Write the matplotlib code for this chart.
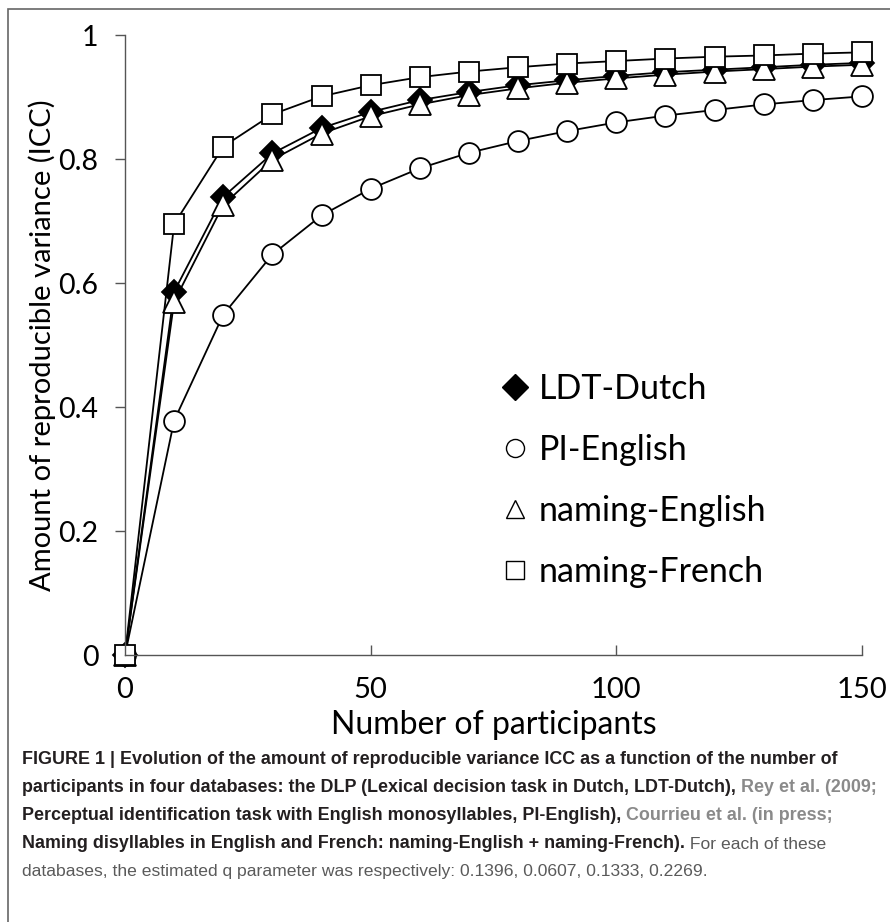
import matplotlib.pyplot as plt
from matplotlib.lines import Line2D
from matplotlib.patches import Rectangle

# participants (x) and ICC values
n_participants = [0, 10, 20, 30, 40, 50, 60, 70, 80, 90, 100, 110, 120, 130, 140, 150]
ldt_dutch = [0, 0.586, 0.739, 0.809, 0.850, 0.876, 0.895, 0.908, 0.919, 0.927,
             0.934, 0.940, 0.944, 0.948, 0.952, 0.955]
pi_english = [0, 0.378, 0.549, 0.646, 0.709, 0.752, 0.785, 0.810, 0.829, 0.845,
              0.859, 0.870, 0.879, 0.888, 0.895, 0.901]
naming_english = [0, 0.570, 0.726, 0.799, 0.841, 0.869, 0.888, 0.903, 0.914, 0.923,
                  0.930, 0.936, 0.941, 0.945, 0.949, 0.952]
naming_french = [0, 0.695, 0.820, 0.872, 0.901, 0.919, 0.932, 0.941, 0.948, 0.954,
                 0.958, 0.962, 0.965, 0.967, 0.970, 0.972]

series_labels = ["LDT-Dutch", "PI-English", "naming-English", "naming-French"]
series_markers = ["D", "o", "^", "s"]
series_sizes = [12, 15, 16, 14]
x_ticks = [0, 50, 100, 150]
y_ticks = [0, 0.2, 0.4, 0.6, 0.8, 1]
y_ticklabels = ["0", "0.2", "0.4", "0.6", "0.8", "1"]

W, H = 890, 922
fig = plt.figure(figsize=(W / 100, H / 100), dpi=100)
ax = fig.add_axes([125 / W, 1 - 655 / H, (862 - 125) / W, (655 - 35) / H])

font = "Lato"
all_series = [ldt_dutch, pi_english, naming_english, naming_french]
for vals, lab, mk, ms in zip(all_series, series_labels, series_markers, series_sizes):
    face = "black" if mk == "D" else "white"
    ax.plot(n_participants, vals, color="black", lw=1.3, marker=mk, ms=ms,
            mfc=face, mec="black", mew=1.3, clip_on=False, label=lab)

ax.set_xlim(0, 150)
ax.set_ylim(0, 1)
ax.set_xticks(x_ticks)
ax.set_yticks(y_ticks)
ax.set_yticklabels(y_ticklabels)
for s in ["top", "right"]:
    ax.spines[s].set_visible(False)
for s in ["left", "bottom"]:
    ax.spines[s].set_color("#555555")
    ax.spines[s].set_linewidth(1.0)
ax.tick_params(axis="y", direction="out", length=7, width=1, color="#555555",
               labelsize=20.5, pad=12)
ax.tick_params(axis="x", direction="in", length=7, width=1, color="#555555",
               labelsize=21, pad=16)
for lbl in ax.get_xticklabels() + ax.get_yticklabels():
    lbl.set_fontfamily(font)
ax.set_xlabel("Number of participants", fontsize=23, family=font, labelpad=5)
ax.set_ylabel("Amount of reproducible variance (ICC)", fontsize=21, family=font,
              labelpad=2)

handles = []
for lab, mk in zip(series_labels, series_markers):
    face = "black" if mk == "D" else "white"
    handles.append(Line2D([], [], ls="none", marker=mk, ms=13, mfc=face,
                          mec="black", mew=1.0, label=lab))
ax.legend(handles=handles, loc="upper left", bbox_to_anchor=(0.465, 0.505),
          frameon=False, prop={"family": font, "size": 24.5}, handletextpad=0.18,
          labelspacing=0.86, handlelength=1.0)

# outer frame of the figure panel
fig.add_artist(Rectangle((8 / W, -0.1), 1.2, 1 - 9 / H + 0.1,
                         transform=fig.transFigure, fill=False,
                         edgecolor="#666666", lw=1.2))

# caption
cap_font = ["Liberation Sans Narrow", "Liberation Sans"]
dark = "#231f20"
grey = "#8a8a8a"
soft = "#5a5a5a"
caption_lines = [
    [("FIGURE 1 | Evolution of the amount of reproducible variance ICC as a function of the number of", dark, "bold")],
    [("participants in four databases: the DLP (Lexical decision task in Dutch, LDT-Dutch), ", dark, "bold"),
     ("Rey et al. (2009;", grey, "bold")],
    [("Perceptual identification task with English monosyllables, PI-English), ", dark, "bold"),
     ("Courrieu et al. (in press;", grey, "bold")],
    [("Naming disyllables in English and French: naming-English + naming-French).", dark, "bold"),
     (" For each of these", soft, "normal")],
    [("databases, the estimated q parameter was respectively: 0.1396, 0.0607, 0.1333, 0.2269.", soft, "normal")],
]
line_y = [759, 787, 815, 843, 871]
for segs, yy in zip(caption_lines, line_y):
    prev = None
    for txt, col, wt in segs:
        size = 12.9 if wt == "bold" else 12.6
        if prev is None:
            prev = fig.text(22 / W, 1 - yy / H, txt, color=col, fontweight=wt,
                            family=cap_font, fontsize=size, va="center", ha="left")
        else:
            prev = ax.annotate(txt, xy=(1, 0), xycoords=prev, va="bottom", ha="left",
                               color=col, fontweight=wt, family=cap_font,
                               fontsize=size, annotation_clip=False)

fig.savefig("out.png", dpi=100)
